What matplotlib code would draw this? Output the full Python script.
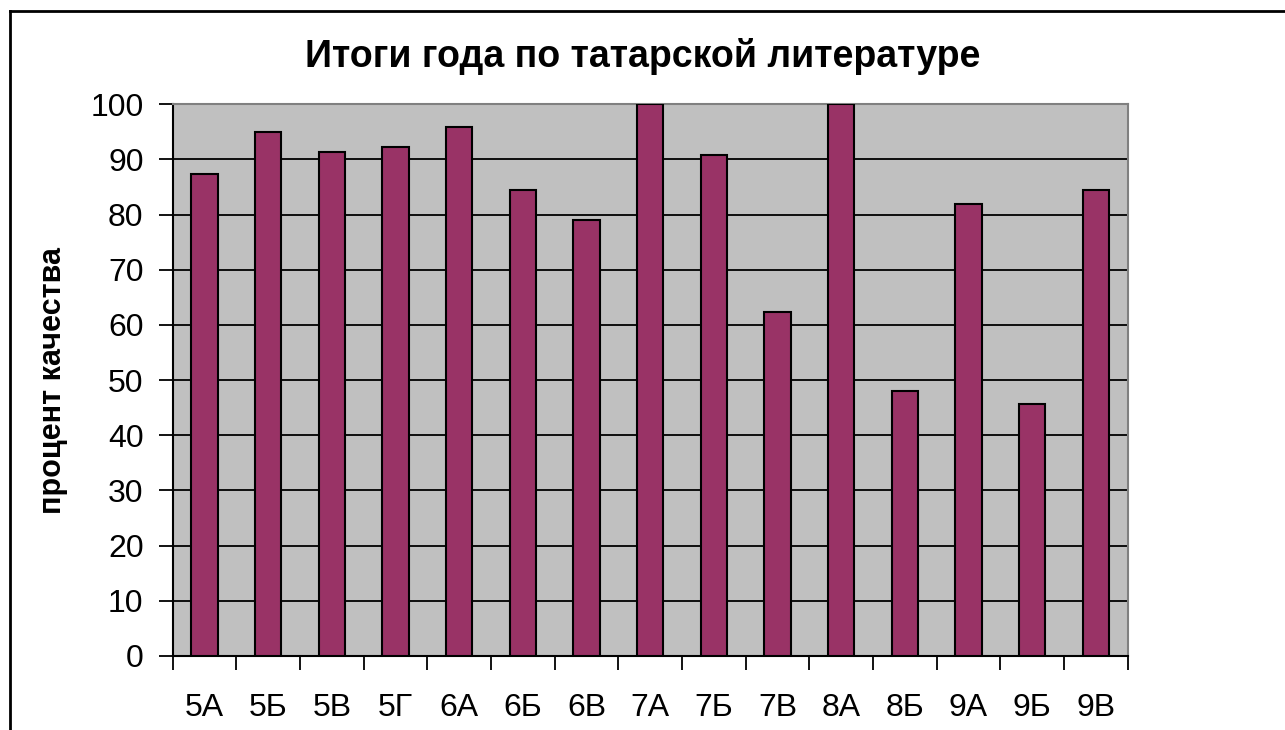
import matplotlib
matplotlib.use('Agg')
import matplotlib.pyplot as plt
from matplotlib.lines import Line2D
import numpy as np

plt.rcParams['font.family'] = ['Liberation Sans', 'DejaVu Sans']

# class names and quality percentage
classes = ['5А', '5Б', '5В', '5Г', '6А', '6Б', '6В', '7А',
           '7Б', '7В', '8А', '8Б', '9А', '9Б', '9В']
quality = [87.3, 94.9, 91.4, 92.3, 95.9, 84.5, 79.1, 100,
           90.8, 62.4, 100, 48.0, 81.9, 45.6, 84.5]

title = 'Итоги года по татарской литературе'
ylabel = 'процент качества'

fig = plt.figure(figsize=(12.85, 7.3), dpi=100)
ax = fig.add_axes([0.1344, 0.1014, 0.7432, 0.7557])
ax.set_facecolor('#C0C0C0')

x = np.arange(len(classes))
ax.bar(x, quality, width=0.41, color='#993366', edgecolor='black',
       linewidth=1.5, zorder=3)

ax.set_xlim(-0.5, len(classes) - 0.5)
ax.set_ylim(0, 100)
ax.set_yticks(np.arange(0, 101, 10))
ax.yaxis.grid(True, color='black', linewidth=1.3, zorder=1)
ax.set_axisbelow(True)

# category labels in the middle, ticks at the boundaries
ax.set_xticks(x)
ax.set_xticklabels(classes)
ax.set_xticks(np.arange(-0.5, len(classes), 1), minor=True)
ax.tick_params(axis='x', which='major', length=0, pad=27, labelsize=23)
ax.tick_params(axis='x', which='minor', length=10, width=1.3)
ax.tick_params(axis='y', length=10, width=1.3, labelsize=23, pad=11)

for side in ['left', 'bottom']:
    ax.spines[side].set_color('black')
    ax.spines[side].set_linewidth(1.5)
for side in ['top', 'right']:
    ax.spines[side].set_color('#808080')
    ax.spines[side].set_linewidth(1.5)

ax.set_ylabel(ylabel, fontsize=22, fontweight='bold', labelpad=16)
fig.text(0.5, 0.922, title, ha='center', va='center',
         fontsize=27, fontweight='bold')

# outer frame of the chart (left and top only visible in the source)
fig.add_artist(Line2D([0.0078, 0.0078], [0.0, 0.985], color='black',
                      linewidth=2, transform=fig.transFigure))
fig.add_artist(Line2D([0.0078, 1.0], [0.985, 0.985], color='black',
                      linewidth=2, transform=fig.transFigure))

fig.savefig('out.png', dpi=100)
